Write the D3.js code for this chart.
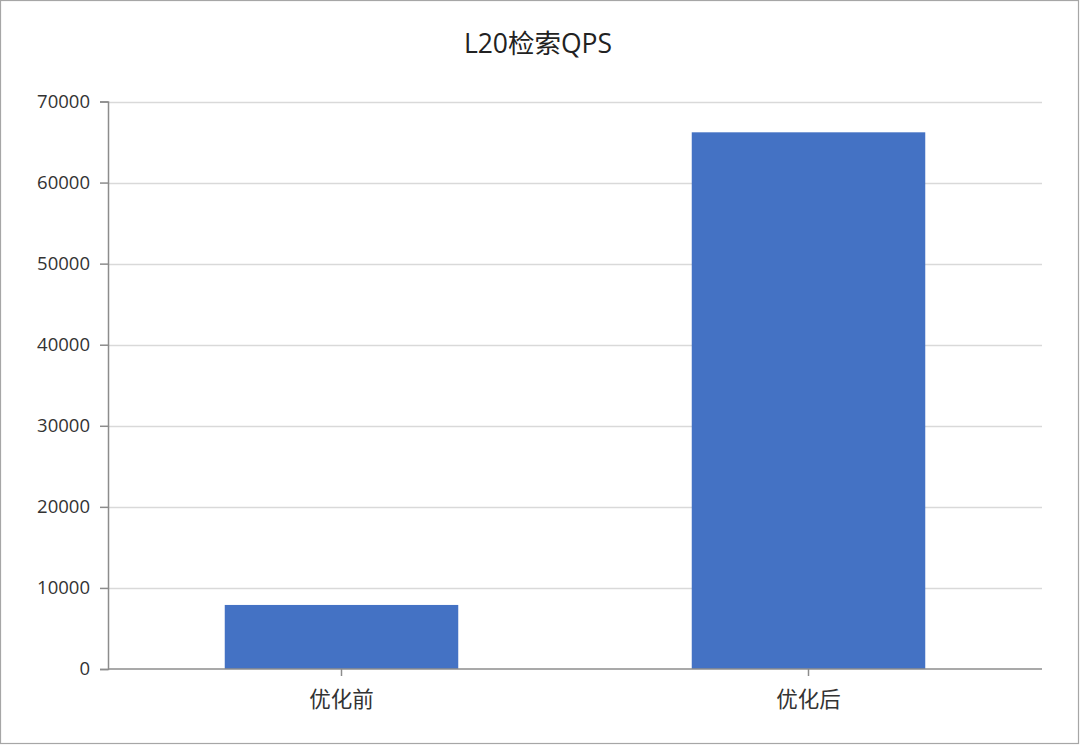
<!DOCTYPE html>
<html><head><meta charset="utf-8">
<script src="https://cdn.jsdelivr.net/npm/d3@7"></script>
<style>
html,body{margin:0;padding:0;background:#fff;}
svg{display:block;}
</style></head>
<body><svg id="c" width="1080" height="745"></svg>
<script>
const title = "L20检索QPS";
const categories = ["优化前", "优化后"];
const values = [7900, 66200];
const yTicks = [0, 10000, 20000, 30000, 40000, 50000, 60000, 70000];

const FONT = "'Open Sans','Noto Sans CJK SC',sans-serif";
const svg = d3.select("#c");
const W = 1080, H = 745;
const m = {left: 108, right: 1042, top: 101.5, bottom: 669};

svg.append("rect").attr("x", 0.5).attr("y", 0.5).attr("width", W - 2).attr("height", H - 2)
  .attr("fill", "#fff").attr("stroke", "#a6a6a6").attr("stroke-width", 1.2);

const x = d3.scaleBand().domain(categories).range([m.left, m.right]).paddingInner(0.5).paddingOuter(0.25);
const y = d3.scaleLinear().domain([0, 70000]).range([m.bottom, m.top]);

// gridlines
svg.append("g").selectAll("line").data(yTicks.filter(d => d > 0)).join("line")
  .attr("x1", m.left).attr("x2", m.right)
  .attr("y1", d => Math.round(y(d)) + 0.5).attr("y2", d => Math.round(y(d)) + 0.5)
  .attr("stroke", "#d9d9d9").attr("stroke-width", 1.3);

// bars
svg.append("g").selectAll("rect").data(values).join("rect")
  .attr("x", (d, i) => x(categories[i]))
  .attr("width", x.bandwidth())
  .attr("y", d => y(d))
  .attr("height", d => y(0) - y(d))
  .attr("fill", "#4472c4");

// y axis
const yAxis = d3.axisLeft(y).tickValues(yTicks).tickSize(8).tickPadding(10).tickFormat(d3.format("d"));
const gy = svg.append("g").attr("transform", `translate(${m.left},0)`).call(yAxis)
  .attr("font-family", null).attr("font-size", null);
gy.select(".domain").attr("stroke", "#8c8c8c").attr("stroke-width", 1.5);
gy.selectAll(".tick line").attr("stroke", "#8c8c8c").attr("stroke-width", 1.5);
gy.selectAll("text").attr("fill", "#333").style("font-family", FONT).style("font-size", "18.5px");

// x axis
const gx = svg.append("g").attr("transform", `translate(0,${m.bottom})`)
  .call(d3.axisBottom(x).tickSize(7).tickSizeOuter(0))
  .attr("font-family", null).attr("font-size", null);
gx.select(".domain").attr("stroke", "#8c8c8c").attr("stroke-width", 1.5)
  .attr("d", `M${m.left},0H${m.right}`);
gx.selectAll(".tick line").attr("stroke", "#8c8c8c").attr("stroke-width", 1.5);
gx.selectAll("text").attr("fill", "#333").attr("y", 38).attr("dy", null)
  .style("font-family", FONT).style("font-size", "21.5px");

// title
svg.append("text").attr("x", 538).attr("y", 53).attr("text-anchor", "middle")
  .attr("fill", "#222").style("font-family", FONT).style("font-size", "26.5px").text(title);
</script></body></html>
